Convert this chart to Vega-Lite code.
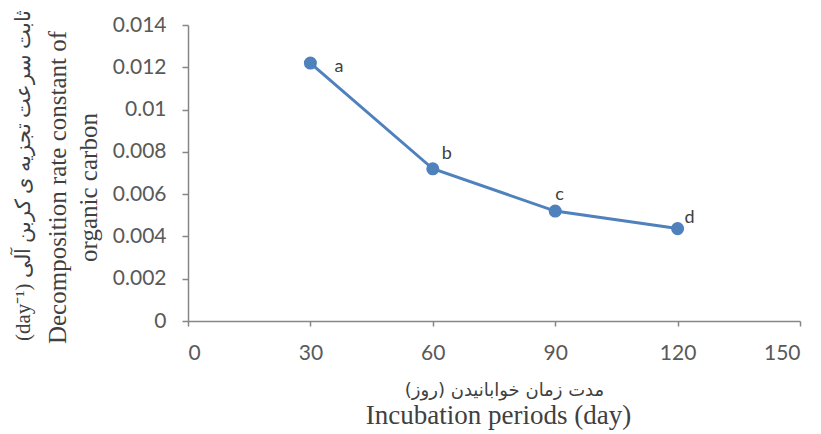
{
  "$schema": "https://vega.github.io/schema/vega-lite/v6.json",
  "width": 612,
  "height": 296,
  "autosize": {"type": "none"},
  "padding": {"left": 188, "top": 25, "right": 21, "bottom": 113},
  "background": "white",
  "config": {"view": {"stroke": null}},
  "data": {"values": [
    {"day": 30, "k": 0.0122, "label": "a"},
    {"day": 60, "k": 0.0072, "label": "b"},
    {"day": 90, "k": 0.0052, "label": "c"},
    {"day": 120, "k": 0.00437, "label": "d"}
  ]},
  "resolve": {"axis": {"x": "independent", "y": "independent"}},
  "layer": [
    {"mark": {"type": "line", "color": "#4F81BD", "strokeWidth": 3},
     "encoding": {
      "x": {"field": "day", "type": "quantitative",
        "scale": {"domain": [0, 150], "nice": false},
        "axis": {"orient": "bottom", "values": [0, 30, 60, 90, 120, 150], "grid": false, "domainColor": "#868686", "domainWidth": 1.5, "tickColor": "#868686", "tickWidth": 1.5, "tickSize": 5, "labelFont": "Lato", "labelFontSize": 21, "labelColor": "#595959", "labelPadding": 16,
          "title": "مدت زمان خوابانیدن (روز)\u200F",
          "titleFont": "DejaVu Sans", "titleFontSize": 18, "titleFontWeight": "normal", "titleColor": "#404040", "titleX": 316, "titleY": 69, "titleBaseline": "middle", "titleAlign": "center", "titleAngle": 0}},
      "y": {"field": "k", "type": "quantitative",
        "scale": {"domain": [0, 0.014], "nice": false},
        "axis": {"orient": "left", "values": [0, 0.002, 0.004, 0.006, 0.008, 0.01, 0.012, 0.014], "labelExpr": "datum.value == 0 ? '0' : format(datum.value, '.3~f')", "grid": false, "domainColor": "#868686", "domainWidth": 1.5, "tickColor": "#868686", "tickWidth": 1.5, "tickSize": 6, "labelFont": "Lato", "labelFontSize": 21, "labelColor": "#595959", "labelPadding": 16,
          "title": ["Decomposition rate constant of", "organic carbon"],
          "titleFont": "Liberation Serif", "titleFontSize": 25, "titleFontWeight": "normal", "titleColor": "#404040", "titleLineHeight": 31, "titleAngle": -90, "titleBaseline": "middle", "titleAlign": "center", "titleX": -131, "titleY": 162}}
     }},
    {"mark": {"type": "circle", "color": "#4F81BD", "opacity": 1, "size": 170},
     "encoding": {
      "x": {"field": "day", "type": "quantitative",
        "axis": {"orient": "bottom", "labels": false, "ticks": false, "domain": false, "grid": false,
          "title": "Incubation periods (day)",
          "titleFont": "Liberation Serif", "titleFontSize": 27, "titleFontWeight": "normal", "titleColor": "#404040", "titleX": 310, "titleY": 102, "titleBaseline": "alphabetic", "titleAlign": "center", "titleAngle": 0}},
      "y": {"field": "k", "type": "quantitative",
        "axis": {"orient": "left", "labels": false, "ticks": false, "domain": false, "grid": false,
          "title": "(day⁻¹) ثابت سرعت تجزیه ی کربن آلی",
          "titleFont": "Liberation Serif", "titleFontSize": 21, "titleFontWeight": "normal", "titleColor": "#404040", "titleAngle": -90, "titleBaseline": "middle", "titleAlign": "center", "titleX": -165, "titleY": 150}}
     }},
    {"transform": [{"filter": "datum.label == 'a'"}], "mark": {"type": "text", "font": "Lato", "fontSize": 18, "color": "#404040", "align": "left", "dx": 24, "dy": 4},
     "encoding": {"x": {"field": "day", "type": "quantitative", "axis": null}, "y": {"field": "k", "type": "quantitative", "axis": null}, "text": {"field": "label"}}},
    {"transform": [{"filter": "datum.label == 'b'"}], "mark": {"type": "text", "font": "Lato", "fontSize": 18, "color": "#404040", "align": "left", "dx": 9, "dy": -15},
     "encoding": {"x": {"field": "day", "type": "quantitative", "axis": null}, "y": {"field": "k", "type": "quantitative", "axis": null}, "text": {"field": "label"}}},
    {"transform": [{"filter": "datum.label == 'c'"}], "mark": {"type": "text", "font": "Lato", "fontSize": 18, "color": "#404040", "align": "left", "dx": 0, "dy": -16},
     "encoding": {"x": {"field": "day", "type": "quantitative", "axis": null}, "y": {"field": "k", "type": "quantitative", "axis": null}, "text": {"field": "label"}}},
    {"transform": [{"filter": "datum.label == 'd'"}], "mark": {"type": "text", "font": "Lato", "fontSize": 18, "color": "#404040", "align": "left", "dx": 7, "dy": -11},
     "encoding": {"x": {"field": "day", "type": "quantitative", "axis": null}, "y": {"field": "k", "type": "quantitative", "axis": null}, "text": {"field": "label"}}}
  ]
}
